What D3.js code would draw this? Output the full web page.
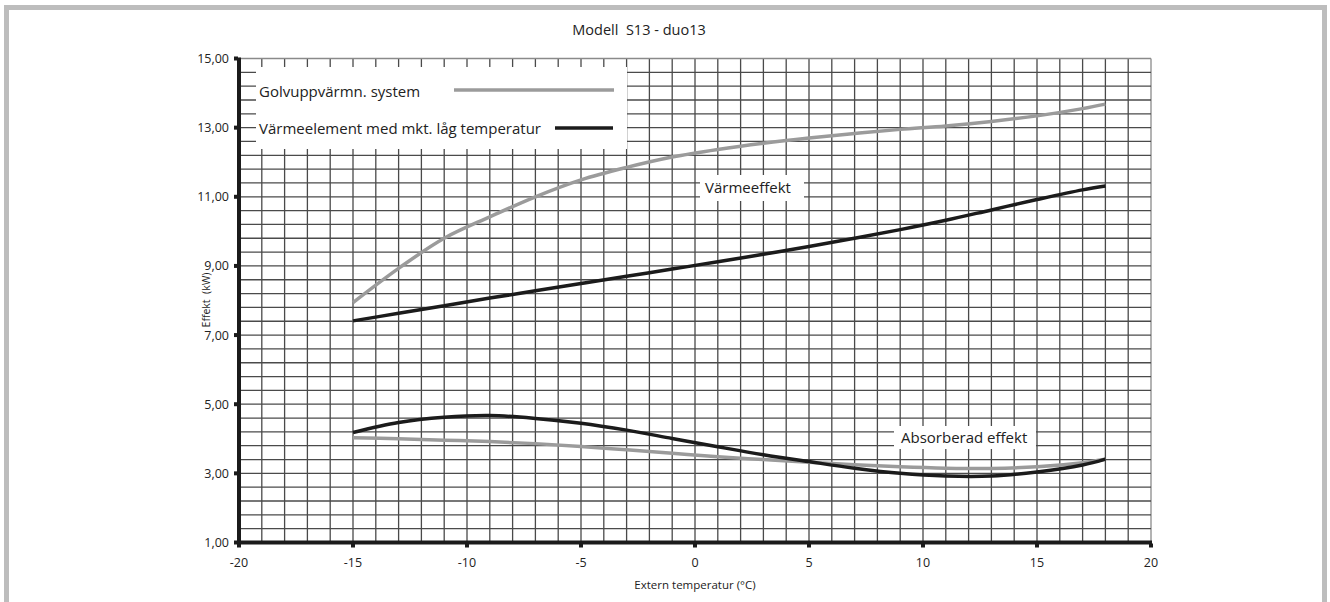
<!DOCTYPE html>
<html>
<head>
<meta charset="utf-8">
<script src="https://cdn.jsdelivr.net/npm/d3@7"></script>
<style>
  html, body { margin: 0; padding: 0; background: #fff; }
  svg { display: block; }
  text { font-family: "Open Sans", "Noto Sans", sans-serif; fill: #222; }
</style>
</head>
<body>
<svg id="chart" width="1330" height="602"></svg>
<script>
// ---- data ----
const title = "Modell  S13 - duo13";
const xTitle = "Extern temperatur (°C)";
const yTitle = "Effekt  (kW)";
const seriesNames = ["Golvuppvärmn. system", "Värmeelement med mkt. låg temperatur"];
const groupLabels = ["Värmeeffekt", "Absorberad effekt"];
const xTicks = [-20, -15, -10, -5, 0, 5, 10, 15, 20];
const yTicks = [1, 3, 5, 7, 9, 11, 13, 15];
const temps = [-15, -13, -11, -9, -7, -5, -3, -1, 1, 3, 5, 7, 9, 11, 13, 15, 17, 18];
const floorHeat = [7.94, 8.93, 9.80, 10.42, 11.00, 11.49, 11.85, 12.15, 12.37, 12.55, 12.70, 12.83, 12.95, 13.05, 13.18, 13.34, 13.55, 13.68];
const lowTempHeat = [7.41, 7.63, 7.85, 8.07, 8.28, 8.49, 8.70, 8.91, 9.12, 9.34, 9.56, 9.80, 10.05, 10.32, 10.62, 10.92, 11.20, 11.31];
const floorAbs = [4.03, 4.00, 3.96, 3.92, 3.86, 3.78, 3.68, 3.58, 3.48, 3.40, 3.32, 3.25, 3.19, 3.15, 3.14, 3.19, 3.31, 3.41];
const lowTempAbs = [4.18, 4.47, 4.62, 4.67, 4.59, 4.45, 4.25, 4.01, 3.77, 3.54, 3.34, 3.15, 3.00, 2.92, 2.92, 3.04, 3.24, 3.41];

// ---- layout ----
const svg = d3.select("#chart");
const x = d3.scaleLinear().domain([-20, 20]).range([239, 1151]);
const y = d3.scaleLinear().domain([1, 15]).range([542.5, 58.5]);
const grey = "#9b9b9b", black = "#1b1b1b", gridCol = "#4a4a4a";

// outer frame
svg.append("rect").attr("x", 6.5).attr("y", 7.5).attr("width", 1318).attr("height", 620)
  .attr("fill", "none").attr("stroke", "#bdbdbd").attr("stroke-width", 5);

// title
svg.append("text").attr("x", 639).attr("y", 35).attr("text-anchor", "middle")
  .style("font-size", "14.5px").style("white-space", "pre").text(title);

// grid
const g = svg.append("g");
const vLines = d3.range(-19, 21, 1);
g.selectAll("line.v").data(vLines).join("line")
  .attr("x1", d => x(d)).attr("x2", d => x(d))
  .attr("y1", y(15)).attr("y2", y(1))
  .attr("stroke", d => d === 20 ? "#8a8a8a" : gridCol).attr("stroke-width", 1.3);
const hLines = d3.range(1.4, 15.01, 0.4);
g.selectAll("line.h").data(hLines).join("line")
  .attr("x1", x(-20)).attr("x2", x(20))
  .attr("y1", d => y(d)).attr("y2", d => y(d))
  .attr("stroke", d => Math.abs(d - 15) < 0.01 ? "#8a8a8a" : gridCol).attr("stroke-width", 1.3);

// legend box
svg.append("rect").attr("x", 256).attr("y", 67).attr("width", 371).attr("height", 82).attr("fill", "#fff");
svg.append("text").attr("x", 259).attr("y", 97).style("font-size", "15px").text(seriesNames[0]);
svg.append("text").attr("x", 259).attr("y", 134).style("font-size", "15px").text(seriesNames[1]);
svg.append("line").attr("x1", 454).attr("x2", 614).attr("y1", 90).attr("y2", 90)
  .attr("stroke", grey).attr("stroke-width", 3.5);
svg.append("line").attr("x1", 555).attr("x2", 613).attr("y1", 128).attr("y2", 128)
  .attr("stroke", black).attr("stroke-width", 3.5);

// group labels
svg.append("rect").attr("x", 700).attr("y", 175).attr("width", 104).attr("height", 26).attr("fill", "#fff");
svg.append("text").attr("x", 705).attr("y", 193).style("font-size", "15px").text(groupLabels[0]);
svg.append("rect").attr("x", 894).attr("y", 426).attr("width", 142).attr("height", 23).attr("fill", "#fff");
svg.append("text").attr("x", 901).attr("y", 443).style("font-size", "15px").text(groupLabels[1]);

// curves
const line = d3.line().x(d => x(d[0])).y(d => y(d[1])).curve(d3.curveCatmullRom.alpha(0.5));
const series = [
  { v: floorAbs, c: grey },
  { v: lowTempAbs, c: black },
  { v: floorHeat, c: grey },
  { v: lowTempHeat, c: black }
];
svg.selectAll("path.s").data(series).join("path")
  .attr("d", s => line(temps.map((t, i) => [t, s.v[i]])))
  .attr("fill", "none").attr("stroke", s => s.c).attr("stroke-width", 3.5);

// axes
svg.append("line").attr("x1", x(-20)).attr("x2", x(-20)).attr("y1", y(15) - 1).attr("y2", y(1) + 2)
  .attr("stroke", black).attr("stroke-width", 4);
svg.append("line").attr("x1", x(-20) - 2).attr("x2", x(20) + 1).attr("y1", y(1)).attr("y2", y(1))
  .attr("stroke", black).attr("stroke-width", 4);
svg.selectAll("rect.yt").data(yTicks).join("rect")
  .attr("x", x(-20) - 5).attr("y", d => y(d) - 2).attr("width", 4).attr("height", 4).attr("fill", black);
svg.selectAll("rect.xt").data(xTicks).join("rect")
  .attr("x", d => x(d) - 2).attr("y", y(1) + 1).attr("width", 4).attr("height", 4).attr("fill", black);

const fmt = d => d3.format(".2f")(d).replace(".", ",");
svg.selectAll("text.yl").data(yTicks).join("text")
  .attr("x", 229).attr("y", d => y(d) + 4.5).attr("text-anchor", "end")
  .style("font-size", "12.5px").text(fmt);
svg.selectAll("text.xl").data(xTicks).join("text")
  .attr("x", d => x(d)).attr("y", 567).attr("text-anchor", "middle")
  .style("font-size", "12.5px").text(d => d);

svg.append("text").attr("x", 695).attr("y", 589).attr("text-anchor", "middle")
  .style("font-size", "11.5px").text(xTitle);
svg.append("text").attr("transform", "translate(210,300) rotate(-90)").attr("text-anchor", "middle")
  .style("font-size", "10.5px").style("white-space", "pre").text(yTitle);
</script>
</body>
</html>
